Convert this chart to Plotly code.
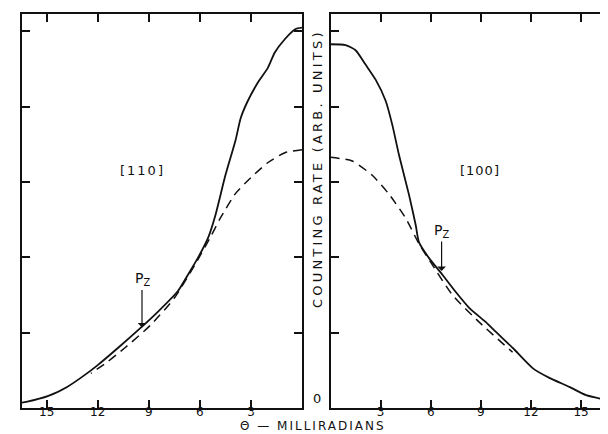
import plotly.graph_objects as go

# ---- data (theta in milliradians, counting rate in arbitrary units) ----
theta_110_solid = [0.0, 0.4, 1.0, 1.6, 2.0, 2.6, 3.2, 3.6, 3.9, 4.5, 5.1, 5.5, 6.1, 6.7, 7.3,
                   8.5, 9.5, 10.8, 12.0, 13.0, 13.8, 14.9, 16.2, 16.45]
rate_110_solid = [5.05, 5.03, 4.90, 4.72, 4.52, 4.32, 4.07, 3.85, 3.56, 3.09, 2.55, 2.27, 2.00,
                  1.77, 1.55, 1.27, 1.06, 0.80, 0.57, 0.40, 0.28, 0.16, 0.08, 0.07]

theta_110_dash = [0.0, 1.0, 2.0, 3.0, 3.9, 4.8, 5.4, 6.3, 7.5, 8.9, 10.4, 11.5, 12.4]
rate_110_dash = [3.43, 3.39, 3.26, 3.06, 2.85, 2.52, 2.26, 1.90, 1.46, 1.10, 0.80, 0.60, 0.46]

theta_100_solid = [0.0, 0.9, 1.5, 2.1, 2.7, 3.3, 3.7, 4.1, 4.7, 5.1, 5.3, 5.9, 6.7, 7.5, 8.3,
                   9.3, 9.9, 10.9, 12.1, 13.1, 14.3, 15.3, 16.7]
rate_100_solid = [4.83, 4.82, 4.75, 4.56, 4.36, 4.08, 3.76, 3.36, 2.83, 2.43, 2.20, 1.99, 1.77,
                  1.54, 1.33, 1.14, 1.01, 0.80, 0.53, 0.40, 0.28, 0.17, 0.10]

theta_100_dash = [0.0, 1.3, 2.5, 3.5, 4.5, 5.3, 6.1, 7.3, 8.9, 10.9]
rate_100_dash = [3.33, 3.28, 3.09, 2.84, 2.52, 2.18, 1.90, 1.50, 1.14, 0.74]

x_ticks = [3, 6, 9, 12, 15]
x_ticktext = ["3", "6", "9", "12", "15"]
y_ticks = [1, 2, 3, 4, 5]

pz_110 = (9.4, 1.07)
pz_100 = (6.65, 1.82)

FONT = "DejaVu Sans"
INK = "#111111"

fig = go.Figure()
fig.add_trace(go.Scatter(x=theta_110_solid, y=rate_110_solid, mode="lines", xaxis="x", yaxis="y",
                         line=dict(color=INK, width=1.8, shape="spline", smoothing=0.6), showlegend=False))
fig.add_trace(go.Scatter(x=theta_110_dash, y=rate_110_dash, mode="lines", xaxis="x", yaxis="y",
                         line=dict(color=INK, width=1.5, dash="9px,6px", shape="spline", smoothing=0.6),
                         showlegend=False))
fig.add_trace(go.Scatter(x=theta_100_solid, y=rate_100_solid, mode="lines", xaxis="x2", yaxis="y2",
                         line=dict(color=INK, width=1.8, shape="spline", smoothing=0.6), showlegend=False))
fig.add_trace(go.Scatter(x=theta_100_dash, y=rate_100_dash, mode="lines", xaxis="x2", yaxis="y2",
                         line=dict(color=INK, width=1.5, dash="9px,6px", shape="spline", smoothing=0.6),
                         showlegend=False))

W, H = 608, 434
ydom = [(H - 400) / H, (H - 6) / H]
xcommon = dict(showline=True, linewidth=2, linecolor=INK, mirror="ticks", ticks="inside",
               ticklen=8, tickwidth=1.5, tickcolor=INK, showgrid=False, zeroline=False,
               tickvals=x_ticks, ticktext=x_ticktext, ticklabelstandoff=-8,
               tickfont=dict(family=FONT, size=12, color=INK))
ycommon = dict(showline=True, linewidth=2, linecolor=INK, mirror="ticks", ticks="inside",
               ticklen=8, tickwidth=1.5, tickcolor=INK, showgrid=False, zeroline=False,
               tickvals=y_ticks, showticklabels=False, range=[0, 5.232], domain=ydom)

fig.update_layout(
    width=W, height=H,
    margin=dict(l=0, r=0, t=0, b=0),
    paper_bgcolor="white", plot_bgcolor="white",
    xaxis=dict(xcommon, domain=[14 / W, 294 / W], range=[16.45, 0], anchor="y"),
    yaxis=dict(ycommon, anchor="x"),
    xaxis2=dict(xcommon, domain=[322.5 / W, 601.5 / W], range=[0, 16.7], anchor="y2"),
    yaxis2=dict(ycommon, anchor="x2"),
    font=dict(family=FONT, color=INK),
)

ann = []
ann.append(dict(x=9.35, y=3.15, xref="x", yref="y", text='<span style="letter-spacing:2px">[110]</span>',
                showarrow=False, font=dict(family=FONT, size=13, color=INK)))
ann.append(dict(x=8.94, y=3.15, xref="x2", yref="y2", text='<span style="letter-spacing:1px">[100]</span>',
                showarrow=False, font=dict(family=FONT, size=13, color=INK)))
ann.append(dict(x=pz_110[0], y=pz_110[1], xref="x", yref="y", text="P<sub>Z</sub>",
                showarrow=True, arrowhead=1, arrowsize=1.2, arrowwidth=1.2, arrowcolor=INK,
                ax=0, ay=-48, font=dict(family=FONT, size=14, color=INK)))
ann.append(dict(x=pz_100[0], y=pz_100[1], xref="x2", yref="y2", text="P<sub>Z</sub>",
                showarrow=True, arrowhead=1, arrowsize=1.2, arrowwidth=1.2, arrowcolor=INK,
                ax=0, ay=-40, font=dict(family=FONT, size=14, color=INK)))
ann.append(dict(x=309 / W, y=1 - 400 / H, xref="paper", yref="paper", text="0",
                showarrow=False, font=dict(family=FONT, size=13, color=INK)))
ann.append(dict(x=309 / W, y=1 - 161 / H, xref="paper", yref="paper",
                text='<span style="letter-spacing:3.2px">COUNTING RATE (ARB. UNITS)</span>',
                textangle=-90, showarrow=False, font=dict(family=FONT, size=13, color=INK)))
ann.append(dict(x=305 / W, y=1 - 427 / H, xref="paper", yref="paper",
                text='<span style="letter-spacing:2px">\u0398 \u2014 MILLIRADIANS</span>',
                showarrow=False, font=dict(family=FONT, size=12, color=INK)))
fig.update_layout(annotations=ann)

fig.write_html("out.html")
